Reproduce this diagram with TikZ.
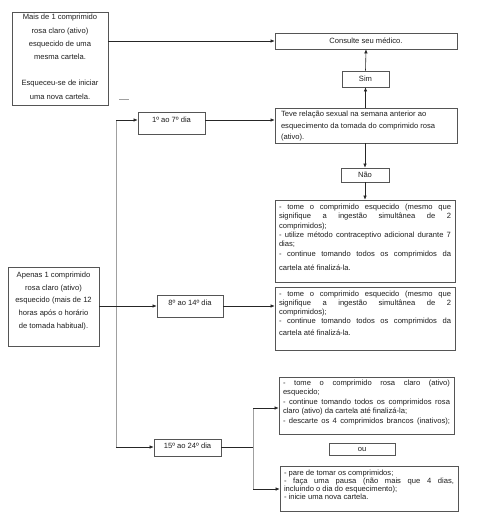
\documentclass[tikz,border=0pt]{standalone}
\usepackage{fontspec}
\setmainfont{Liberation Sans}
\usetikzlibrary{arrows.meta}
\definecolor{bordc}{HTML}{555555}
\definecolor{txtc}{HTML}{1E1E1E}
\definecolor{trunkc}{HTML}{A0A0A0}
\newcommand{\mybx}[4]{\parbox[c][#1pt][t]{#2pt}{\vspace*{#3pt}#4}}
\newcommand{\fs}[1]{\fontsize{7.6}{#1}\selectfont\rule{0pt}{6pt}}
\newcommand{\jl}[1]{\makebox[\linewidth][s]{#1}}
\tikzset{
  bx/.style={draw=bordc, line width=0.7pt, inner xsep=3pt, inner ysep=0pt, text=txtc},
  sbx/.style={draw=bordc, line width=0.7pt, inner sep=0pt, text=txtc,
    font=\fontsize{7.6}{8}\selectfont, text height=5.5pt, text depth=0pt},
  ln/.style={line width=0.6pt, draw=black!85},
  arr/.style={ln, -{Latex[length=4pt,width=3.5pt]}},
  trunk/.style={line width=0.8pt, draw=trunkc}
}
\begin{document}
\begin{tikzpicture}[x=1pt,y=-1pt]
\useasboundingbox (0,0) rectangle (479,516);

% left boxes
\node[bx] (a) at (60,58.5) {\mybx{93}{90}{2}{\centering\fs{13.2}Mais de 1 comprimido\\ rosa claro (ativo)\\ esquecido de uma\\ mesma cartela.\\ \mbox{}\\ Esqueceu-se de iniciar\\ uma nova cartela.}};
\node[bx] (ap) at (53.5,306.5) {\mybx{79}{85}{4.5}{\centering\fs{12.7}Apenas 1 comprimido\\ rosa claro (ativo)\\ esquecido (mais de 12\\ horas após o horário\\ de tomada habitual).}};

% top right
\node[sbx, minimum width=182pt, minimum height=16pt] (cons) at (366,41) {Consulte seu médico.};
\node[sbx, minimum width=47pt, minimum height=16pt] (sim) at (365.5,79) {Sim};
\node[bx, inner xsep=6pt] (teve) at (366,125.5) {\mybx{35}{170}{3}{\raggedright\fs{11.5}Teve relação sexual na semana anterior ao\\ esquecimento da tomada do comprimido rosa\\ (ativo).}};
\node[sbx, minimum width=48pt, minimum height=14pt] (nao) at (365,175) {Não};

% day boxes
\node[sbx, minimum width=67pt, minimum height=22pt, text depth=6pt] (d1) at (171.5,123) {1º ao 7º dia};
\node[sbx, minimum width=66pt, minimum height=22pt, text depth=6pt] (d2) at (190,306) {8º ao 14º dia};
\node[sbx, minimum width=67pt, minimum height=17pt, text depth=3pt] (d3) at (187.5,447.5) {15º ao 24º dia};

% instruction boxes
\node[bx, inner xsep=4pt] (bb) at (365,241) {\mybx{82}{172}{3.5}{\fs{9.3}\jl{- tome o comprimido esquecido (mesmo que}\\ \jl{signifique a ingestão simultânea de 2}\\ comprimidos);\\ \jl{- utilize método contraceptivo adicional durante 7}\\ dias;\\ \jl{- continue tomando todos os comprimidos da}\\[5.5pt] cartela até finalizá-la.}};
\node[bx, inner xsep=4pt] (cc) at (365,318.5) {\mybx{63}{172}{3.5}{\fs{9.1}\jl{- tome o comprimido esquecido (mesmo que}\\ \jl{signifique a ingestão simultânea de 2}\\ comprimidos);\\ \jl{- continue tomando todos os comprimidos da}\\[3pt] cartela até finalizá-la.}};
\node[bx, inner xsep=4pt] (dd) at (366.5,405.5) {\mybx{57}{167}{2}{\fs{9.6}\jl{- tome o comprimido rosa claro (ativo)}\\ esquecido;\\ \jl{- continue tomando todos os comprimidos rosa}\\ claro (ativo) da cartela até finalizá-la;\\ \jl{- descarte os 4 comprimidos brancos (inativos);}}};
\node[sbx, minimum width=66pt, minimum height=12pt] (ou) at (362,449) {ou};
\node[bx, inner xsep=4pt] (ff) at (369,488.5) {\mybx{45}{170}{3.5}{\fs{7.9}- pare de tomar os comprimidos;\\ \jl{- faça uma pausa (não mais que 4 dias,}\\ incluindo o dia do esquecimento);\\ - inicie uma nova cartela.}};

% coordinates
\coordinate (t1) at (116,120);
\coordinate (t2) at (116,447);
\coordinate (br) at (253,447);
\coordinate (bt) at (253,408);
\coordinate (bw) at (253,489);
\coordinate (m1) at (119,99);
\coordinate (m2) at (129,99);

% connectors
\draw[arr] (a.east |- cons.west) -- (cons.west);
\draw[arr] (sim.north) -- (cons.south);
\draw[arr] (teve.north -| sim.south) -- (sim.south);
\draw[arr] (teve.south -| nao.north) -- (nao.north);
\draw[arr] (nao.south) -- (nao.south |- bb.north);
\draw[trunk] (t1) -- (t2);
\draw[arr] (t1) -- (t1 -| d1.west);
\draw[arr] (t2) -- (t2 -| d3.west);
\draw[arr] (d1.east |- t1) -- (t1 -| teve.west);
\draw[arr] (ap.east |- d2.west) -- (d2.west);
\draw[arr] (d2.east) -- (d2.east -| cc.west);
\draw[ln] (d3.east |- t2) -- (br);
\draw[trunk] (bt) -- (bw);
\draw[arr] (bt) -- (bt -| dd.west);
\draw[arr] (bw) -- (bw -| ff.west);
\draw[line width=0.7pt, draw=trunkc] (m1) -- (m2);
\end{tikzpicture}
\end{document}
